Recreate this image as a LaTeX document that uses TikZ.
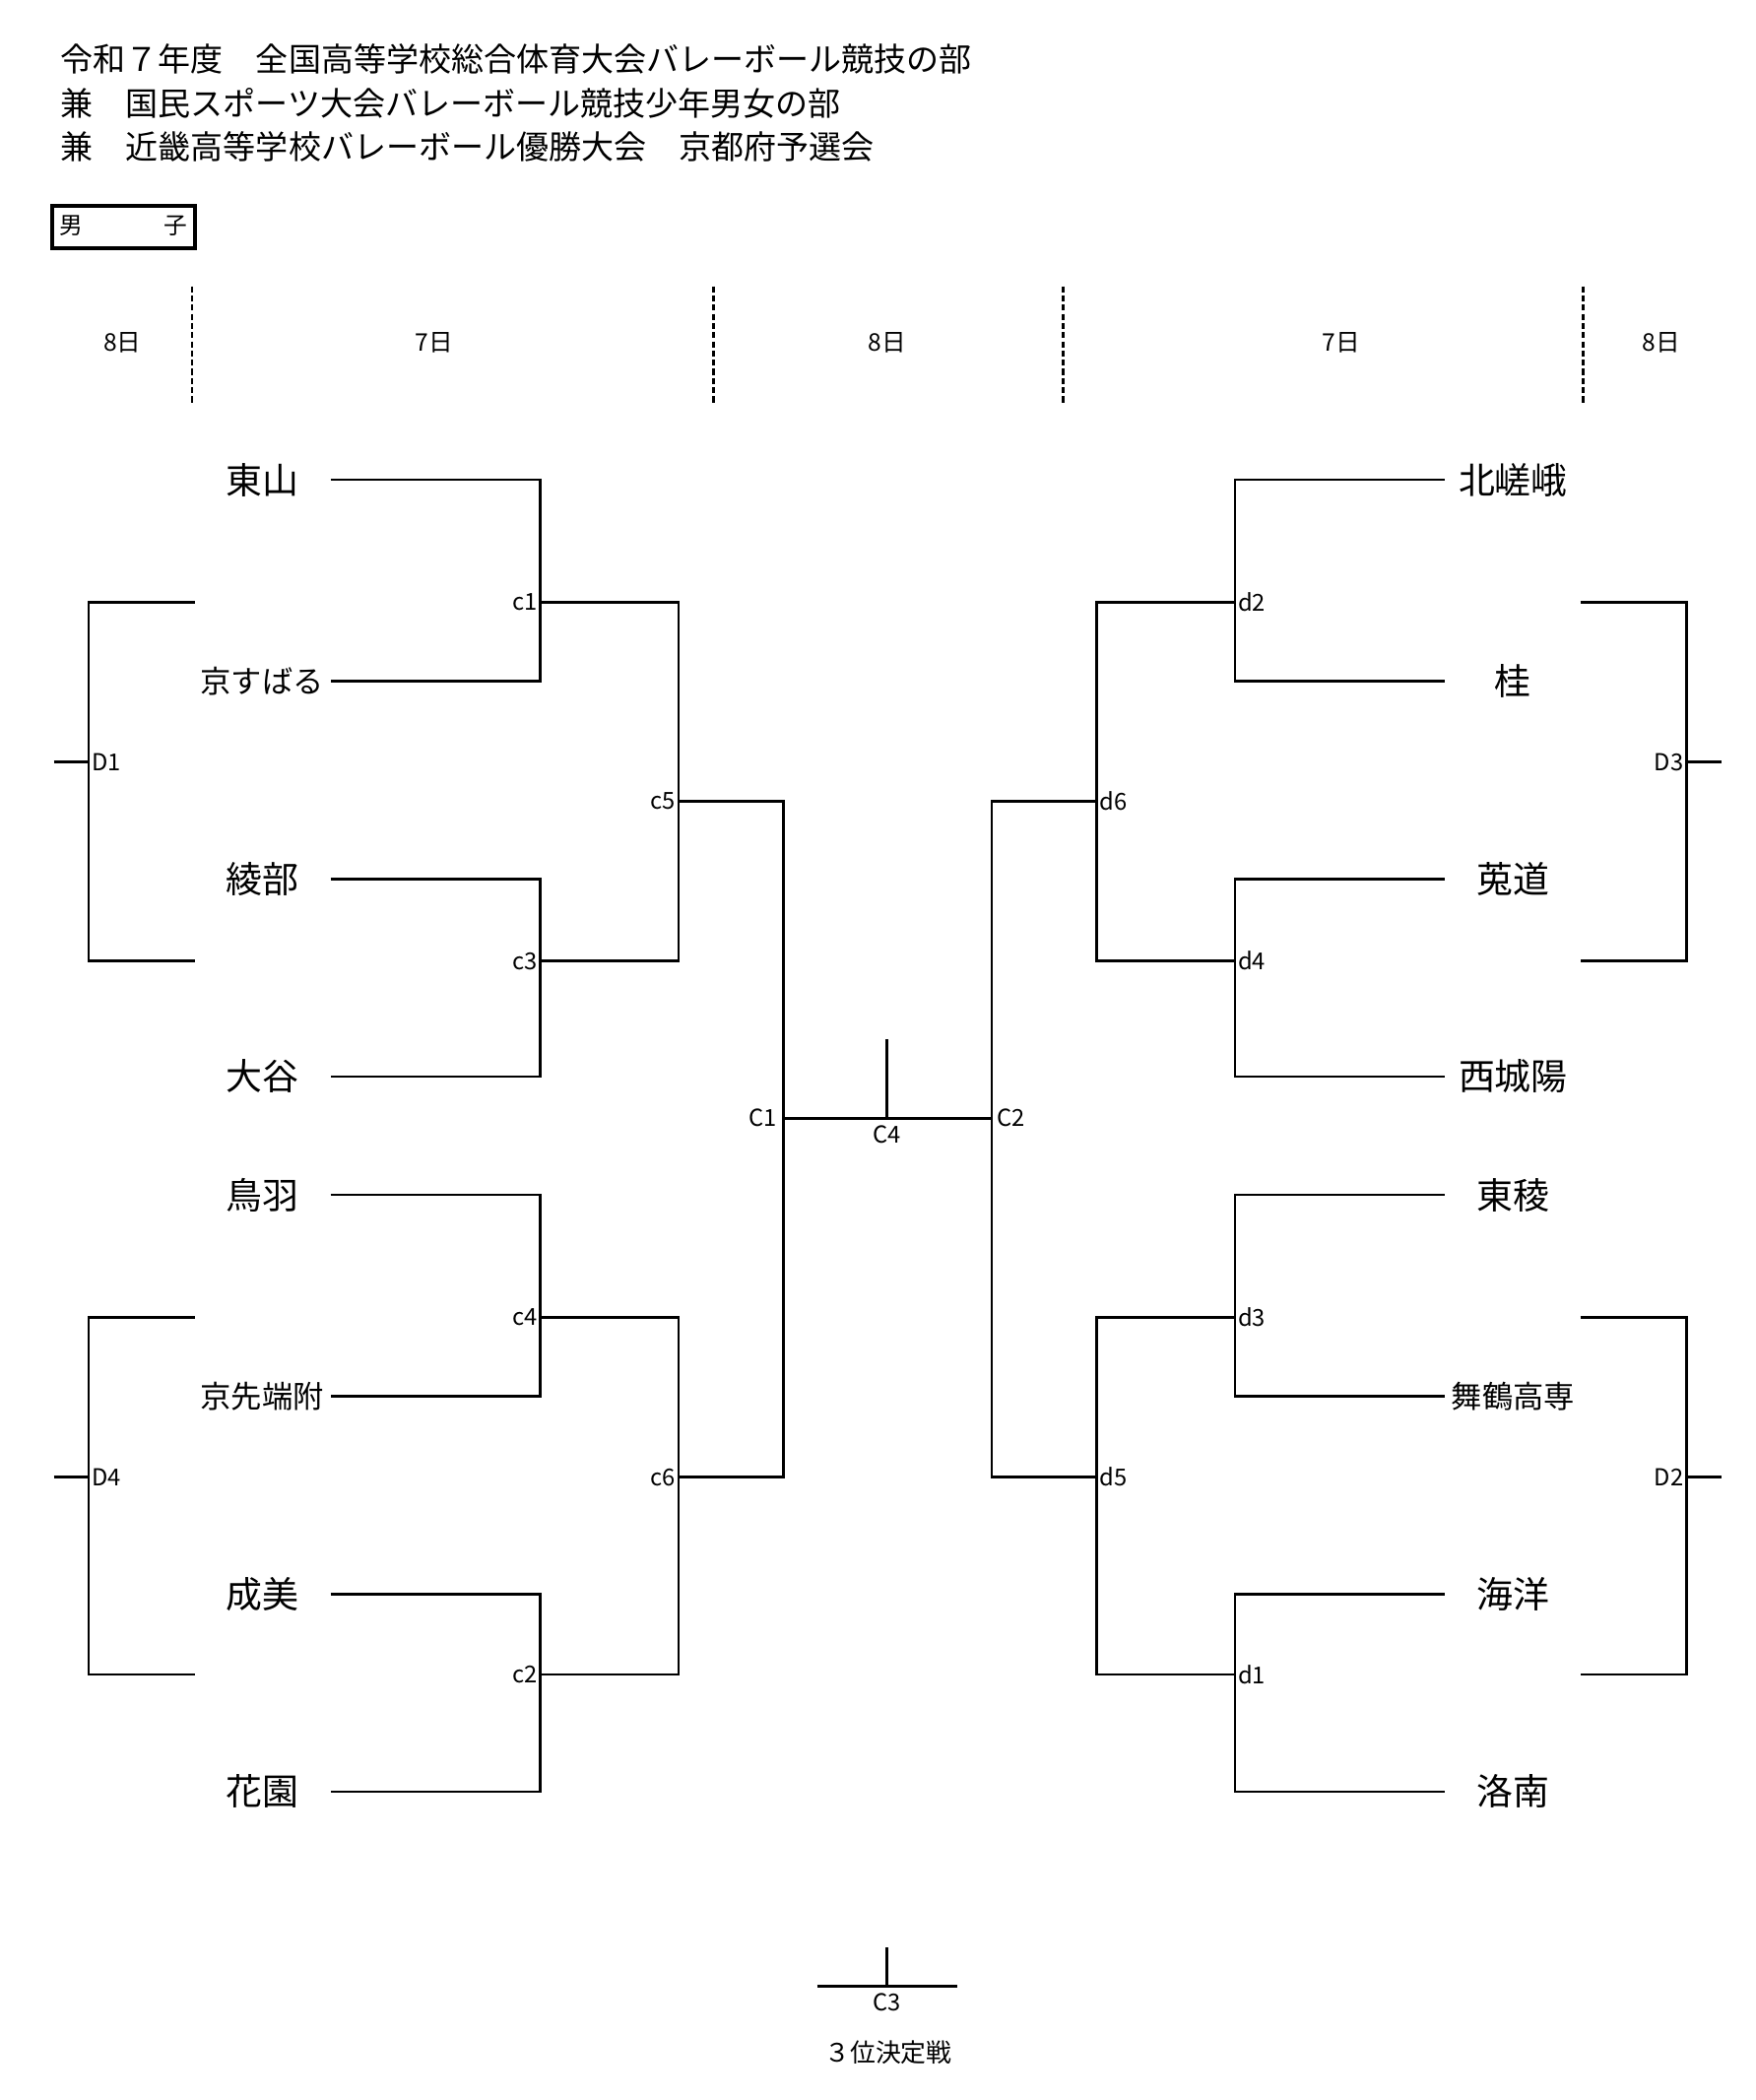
\documentclass[tikz,border=0pt]{standalone}
\usepackage{fontspec}
\setmainfont{Noto Sans CJK JP}
\usepackage{tikz}
\usetikzlibrary{positioning}
\pgfdeclarelayer{background}
\pgfdeclarelayer{foreground}
\pgfsetlayers{background,main,foreground}

\begin{document}
\begin{tikzpicture}[x=0.2729mm,y=-0.2729mm,
	titlenode/.style={anchor=west, inner sep=0pt, font=\fontsize{18.8}{22}\selectfont},
	teamnode/.style={inner sep=0pt, font=\fontsize{21}{24}\selectfont},
	longteam/.style={inner sep=0pt, font=\fontsize{17.8}{21}\selectfont},
	daynode/.style={inner sep=0pt, font=\fontsize{14}{16}\selectfont},
	matchnode/.style={inner sep=1.6pt, font=\fontsize{13.5}{15}\selectfont},
	bracket/.style={line width=1.5pt},
	dayline/.style={line width=1.4pt, dash pattern=on 3.5pt off 1.8pt},
	]
	\useasboundingbox (0,0) rectangle (1306,1562.5);
	%Title
	\node[titlenode] (title1) at (45,44)  {令和７年度　全国高等学校総合体育大会バレーボール競技の部};
	\node[titlenode] (title2) at (45,77)  {兼　国民スポーツ大会バレーボール競技少年男女の部};
	\node[titlenode] (title3) at (45,109) {兼　近畿高等学校バレーボール優勝大会　京都府予選会};
	\node[draw, line width=2.3pt, minimum width=28.9mm, minimum height=8.7mm] (boys) at (92,169) {};
	\node[inner sep=0pt, font=\fontsize{13.5}{15}\selectfont] (boys1) at (53,168) {男};
	\node[inner sep=0pt, font=\fontsize{13.5}{15}\selectfont] (boys2) at (131,168) {子};
	
	%Days
	\node[daynode] (day1) at (91,255)   {8日};
	\node[daynode] (day2) at (323,255)  {7日};
	\node[daynode] (day3) at (660,255)  {8日};
	\node[daynode] (day4) at (998,255)  {7日};
	\node[daynode] (day5) at (1236,255) {8日};
	\coordinate (v1t) at (143,213);  \coordinate (v1b) at (143,300);
	\coordinate (v2t) at (531,213);  \coordinate (v2b) at (531,300);
	\coordinate (v3t) at (791,213);  \coordinate (v3b) at (791,300);
	\coordinate (v4t) at (1178,213); \coordinate (v4b) at (1178,300);
	\draw[dayline] (v1t) -- (v1b);
	\draw[dayline] (v2t) -- (v2b);
	\draw[dayline] (v3t) -- (v3b);
	\draw[dayline] (v4t) -- (v4b);
	
	%Teams left
	\node[teamnode] (n1) at (195,357)  {東山};
	\node[longteam] (n2) at (195,507)  {京すばる};
	\node[teamnode] (n3) at (195,654)  {綾部};
	\node[teamnode] (n4) at (195,801)  {大谷};
	\node[teamnode] (n5) at (195,889)  {鳥羽};
	\node[longteam] (n6) at (195,1039) {京先端附};
	\node[teamnode] (n7) at (195,1186) {成美};
	\node[teamnode] (n8) at (195,1333) {花園};
	\coordinate (t1) at (246,357);  \coordinate (t2) at (246,507);
	\coordinate (t3) at (246,654);  \coordinate (t4) at (246,801);
	\coordinate (t5) at (246,889);  \coordinate (t6) at (246,1039);
	\coordinate (t7) at (246,1186); \coordinate (t8) at (246,1333);
	
	%Teams right
	\node[teamnode] (m1) at (1126,357)  {北嵯峨};
	\node[teamnode] (m2) at (1126,507)  {桂};
	\node[teamnode] (m3) at (1126,654)  {莵道};
	\node[teamnode] (m4) at (1126,801)  {西城陽};
	\node[teamnode] (m5) at (1126,889)  {東稜};
	\node[longteam] (m6) at (1126,1039) {舞鶴高専};
	\node[teamnode] (m7) at (1126,1186) {海洋};
	\node[teamnode] (m8) at (1126,1333) {洛南};
	\coordinate (s1) at (1075,357);  \coordinate (s2) at (1075,507);
	\coordinate (s3) at (1075,654);  \coordinate (s4) at (1075,801);
	\coordinate (s5) at (1075,889);  \coordinate (s6) at (1075,1039);
	\coordinate (s7) at (1075,1186); \coordinate (s8) at (1075,1333);
	
	%Matches
	\coordinate (c1) at (402,448);  \coordinate (c3) at (402,715);
	\coordinate (c4) at (402,980);  \coordinate (c2) at (402,1246);
	\coordinate (c5) at (505,596);  \coordinate (c6) at (505,1099);
	\coordinate (d2) at (919,448);  \coordinate (d4) at (919,715);
	\coordinate (d3) at (919,980);  \coordinate (d1) at (919,1246);
	\coordinate (d6) at (816,596);  \coordinate (d5) at (816,1099);
	\coordinate (C1) at (583,832);  \coordinate (C2) at (738,832);
	\coordinate (C4) at (660,832);  \coordinate (C4top) at (660,773);
	\coordinate (C3) at (660,1478); \coordinate (C3top) at (660,1449);
	\coordinate (C3l) at (608,1478); \coordinate (C3r) at (712,1478);
	
	\node[matchnode, anchor=east] (lc1) at (c1) {c1};
	\node[matchnode, anchor=east] (lc3) at (c3) {c3};
	\node[matchnode, anchor=east] (lc4) at (c4) {c4};
	\node[matchnode, anchor=east] (lc2) at (c2) {c2};
	\node[matchnode, anchor=east] (lc5) at (c5) {c5};
	\node[matchnode, anchor=east] (lc6) at (c6) {c6};
	\node[matchnode, anchor=west] (ld2) at (d2) {d2};
	\node[matchnode, anchor=west] (ld4) at (d4) {d4};
	\node[matchnode, anchor=west] (ld3) at (d3) {d3};
	\node[matchnode, anchor=west] (ld1) at (d1) {d1};
	\node[matchnode, anchor=west] (ld6) at (d6) {d6};
	\node[matchnode, anchor=west] (ld5) at (d5) {d5};
	\node[matchnode, anchor=east, inner sep=3.5pt] (lC1) at (C1) {C1};
	\node[matchnode, anchor=west, inner sep=3pt] (lC2) at (C2) {C2};
	\node[matchnode, anchor=north, inner sep=4pt] (lC4) at (C4) {C4};
	\node[matchnode, anchor=north, inner sep=4pt] (lC3) at (C3) {C3};
	\node[inner sep=0pt, font=\fontsize{14.7}{17}\selectfont] (third) at (661,1527) {３位決定戦};
	
	%Outer brackets
	\coordinate (D1) at (66,567);    \coordinate (D1a) at (145,448);  \coordinate (D1b) at (145,715);  \coordinate (D1s) at (40,567);
	\coordinate (D4) at (66,1099);   \coordinate (D4a) at (145,980);  \coordinate (D4b) at (145,1246); \coordinate (D4s) at (40,1099);
	\coordinate (D3) at (1255,567);  \coordinate (D3a) at (1176,448); \coordinate (D3b) at (1176,715); \coordinate (D3s) at (1281,567);
	\coordinate (D2) at (1255,1099); \coordinate (D2a) at (1176,980); \coordinate (D2b) at (1176,1246); \coordinate (D2s) at (1281,1099);
	\node[matchnode, anchor=west] (lD1) at (D1) {D1};
	\node[matchnode, anchor=west] (lD4) at (D4) {D4};
	\node[matchnode, anchor=east] (lD3) at (D3) {D3};
	\node[matchnode, anchor=east] (lD2) at (D2) {D2};
	
	\begin{pgfonlayer}{background}
	%Lines left
	\draw[bracket] (t1) -| (c1) |- (t2);
	\draw[bracket] (t3) -| (c3) |- (t4);
	\draw[bracket] (t5) -| (c4) |- (t6);
	\draw[bracket] (t7) -| (c2) |- (t8);
	\draw[bracket] (c1) -| (c5) |- (c3);
	\draw[bracket] (c4) -| (c6) |- (c2);
	\draw[bracket] (c5) -| (C1) |- (c6);
	%Lines right
	\draw[bracket] (s1) -| (d2) |- (s2);
	\draw[bracket] (s3) -| (d4) |- (s4);
	\draw[bracket] (s5) -| (d3) |- (s6);
	\draw[bracket] (s7) -| (d1) |- (s8);
	\draw[bracket] (d2) -| (d6) |- (d4);
	\draw[bracket] (d3) -| (d5) |- (d1);
	\draw[bracket] (d6) -| (C2) |- (d5);
	%Final and third place
	\draw[bracket] (C1) -- (C2);
	\draw[bracket] (C4top) -- (C4);
	\draw[bracket] (C3l) -- (C3r);
	\draw[bracket] (C3top) -- (C3);
	%Outer brackets
	\draw[bracket] (D1a) -| (D1) |- (D1b);
	\draw[bracket] (D1s) -- (D1);
	\draw[bracket] (D4a) -| (D4) |- (D4b);
	\draw[bracket] (D4s) -- (D4);
	\draw[bracket] (D3a) -| (D3) |- (D3b);
	\draw[bracket] (D3s) -- (D3);
	\draw[bracket] (D2a) -| (D2) |- (D2b);
	\draw[bracket] (D2s) -- (D2);
	\end{pgfonlayer}
\end{tikzpicture}
\end{document}
